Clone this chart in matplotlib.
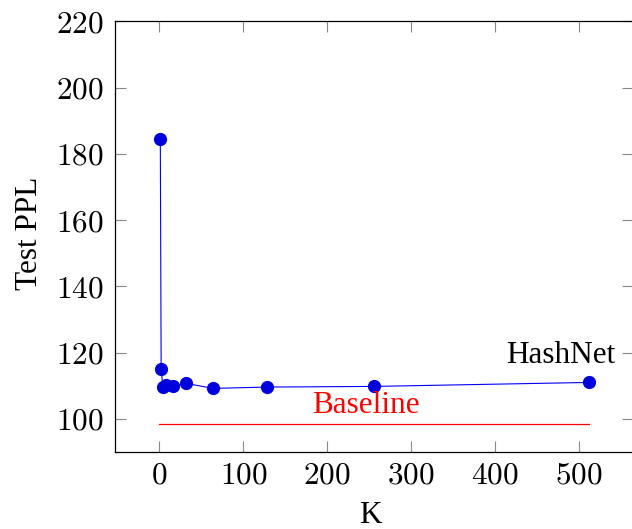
import matplotlib
matplotlib.use("Agg")
import matplotlib.pyplot as plt

K = [1, 2, 4, 8, 16, 32, 64, 128, 256, 512]
ppl = [184.4, 115.1, 109.5, 110.3, 110.0, 110.7, 109.2, 109.6, 109.8, 111.0]
baseline_x = [0, 512]
baseline_y = [98.4, 98.4]

plt.rcParams['font.family'] = ['cmr10', 'DejaVu Serif']
plt.rcParams['axes.formatter.use_mathtext'] = True
plt.rcParams['mathtext.fontset'] = 'cm'

TIMES = ['Liberation Serif', 'DejaVu Serif']
FS = 22.5

fig = plt.figure(figsize=(6.32, 5.29), dpi=100)
ax = fig.add_axes([0.182, 0.1456, 0.8188, 0.8138])

ax.plot(K, ppl, color='#0000ff', lw=0.8, marker='o', markersize=8.5,
        markerfacecolor='#0000dd', markeredgecolor='#0000dd')
ax.plot(baseline_x, baseline_y, color='red', lw=0.9)

ax.text(478.5, 116.9, 'HashNet', ha='center', va='baseline', fontsize=FS,
        family=TIMES)
ax.text(246.5, 101.8, 'Baseline', ha='center', va='baseline', fontsize=FS,
        color='red', family=TIMES)

ax.set_xlim(-53, 564)
ax.set_ylim(90, 220)
ax.set_xticks([0, 100, 200, 300, 400, 500])
ax.set_yticks([100, 120, 140, 160, 180, 200, 220])
ax.tick_params(direction='in', length=8.2, width=0.8, color='#888888',
               labelsize=FS, top=True, right=True)
ax.tick_params(axis='y', pad=8)
ax.tick_params(axis='x', pad=7)
for s in ax.spines.values():
    s.set_linewidth(0.9)

ax.set_xlabel('K', fontsize=FS, family=TIMES)
ax.xaxis.label.set_va('baseline')
ax.xaxis.set_label_coords(0.494, -0.164)
ax.set_ylabel('Test PPL', fontsize=FS, family=TIMES)
ax.yaxis.label.set_va('baseline')
ax.yaxis.set_label_coords(-0.151, 0.508)

fig.savefig('out.png', dpi=100)
